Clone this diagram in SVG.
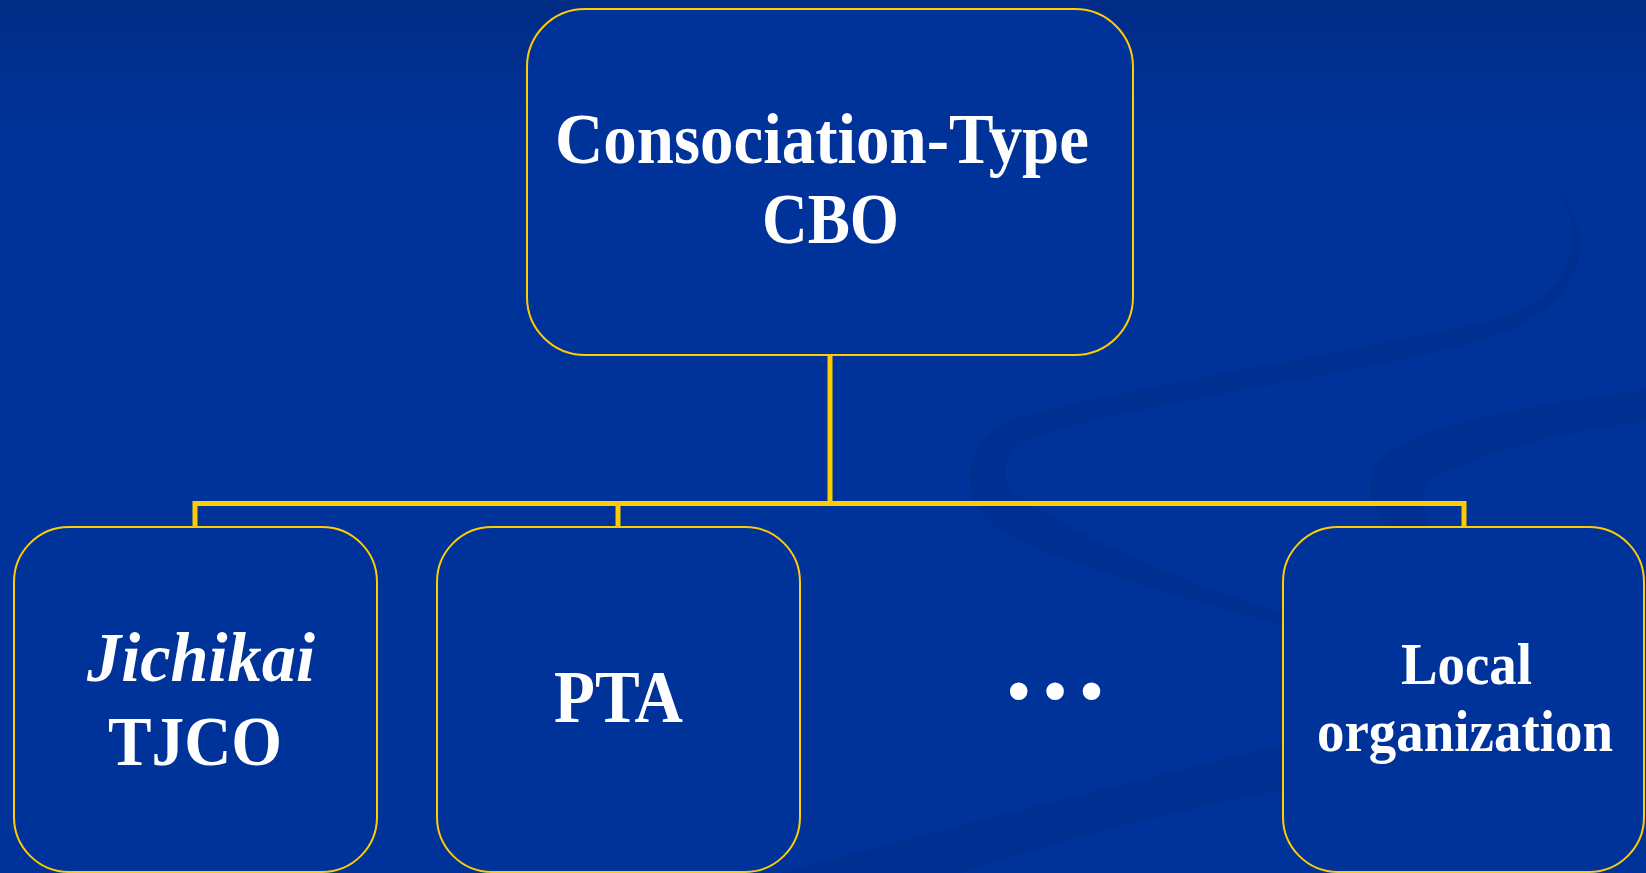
<svg xmlns="http://www.w3.org/2000/svg" width="1646" height="873" viewBox="0 0 1646 873">
  <defs>
    <linearGradient id="bg" x1="0" y1="0" x2="0" y2="873" gradientUnits="userSpaceOnUse">
      <stop offset="0" stop-color="#002c86"/>
      <stop offset="0.16" stop-color="#003399"/>
      <stop offset="1" stop-color="#003399"/>
    </linearGradient>
  </defs>
  <style>
    .box { fill: #003399; stroke: #ffcc00; stroke-width: 2; }
    .conn { fill: none; stroke: #ffcc00; stroke-width: 5; stroke-linejoin: miter; }
    .swoosh { fill: #002a86; opacity: 0.4; }
    .t { fill: #ffffff; font-family: "Liberation Serif", "Times New Roman", serif; font-weight: bold; }
    .it { font-style: italic; }
  </style>
  <rect x="0" y="0" width="1646" height="873" fill="url(#bg)"/>
  <g id="background-swooshes">
    <path class="swoosh" d="M 1555 183 C 1600 240, 1585 305, 1490 338 C 1370 372, 1150 402, 1050 432 C 1000 448, 990 480, 1030 505 C 1100 545, 1200 590, 1292 615 L 1292 628 C 1190 600, 1060 565, 1000 530 C 960 505, 955 445, 1010 420 C 1130 385, 1360 352, 1500 318 C 1578 292, 1588 235, 1555 183 Z"/>
    <path class="swoosh" d="M 1646 390 C 1560 400, 1430 420, 1385 455 C 1360 475, 1365 510, 1400 540 L 1440 540 C 1420 515, 1415 490, 1440 475 C 1490 450, 1570 430, 1646 422 Z"/>
    <path class="swoosh" d="M 780 873 C 900 840, 1100 790, 1290 742 L 1290 788 C 1150 815, 1050 845, 960 873 Z"/>
  </g>
  <g id="connectors">
    <path class="conn" d="M 830 355 L 830 503.5"/>
    <path class="conn" d="M 195 527 L 195 503.5 L 1464 503.5 L 1464 527"/>
    <path class="conn" d="M 618 503.5 L 618 527"/>
  </g>
  <g id="node-cbo">
    <rect class="box" x="527" y="9" width="606" height="346" rx="58" ry="58"/>
    <text class="t" x="555" y="163" font-size="72" textLength="534" lengthAdjust="spacingAndGlyphs">Consociation-Type</text>
    <text class="t" x="762" y="243" font-size="72" textLength="137" lengthAdjust="spacingAndGlyphs">CBO</text>
  </g>
  <g id="node-jichikai">
    <rect class="box" x="14" y="527" width="363" height="345" rx="55" ry="55"/>
    <text class="t it" x="87" y="681" font-size="70" textLength="228" lengthAdjust="spacingAndGlyphs">Jichikai</text>
    <text class="t" x="108" y="765" font-size="70" textLength="174" lengthAdjust="spacingAndGlyphs">TJCO</text>
  </g>
  <g id="node-pta">
    <rect class="box" x="437" y="527" width="363" height="345" rx="55" ry="55"/>
    <text class="t" x="554" y="722" font-size="74" textLength="129" lengthAdjust="spacingAndGlyphs">PTA</text>
  </g>
  <g id="node-ellipsis">
    <text class="t" x="1001" y="698" font-size="108">…</text>
  </g>
  <g id="node-local">
    <rect class="box" x="1283" y="527" width="361" height="345" rx="55" ry="55"/>
    <text class="t" x="1401" y="684" font-size="60" textLength="131" lengthAdjust="spacingAndGlyphs">Local</text>
    <text class="t" x="1317" y="751" font-size="60" textLength="296" lengthAdjust="spacingAndGlyphs">organization</text>
  </g>
</svg>
